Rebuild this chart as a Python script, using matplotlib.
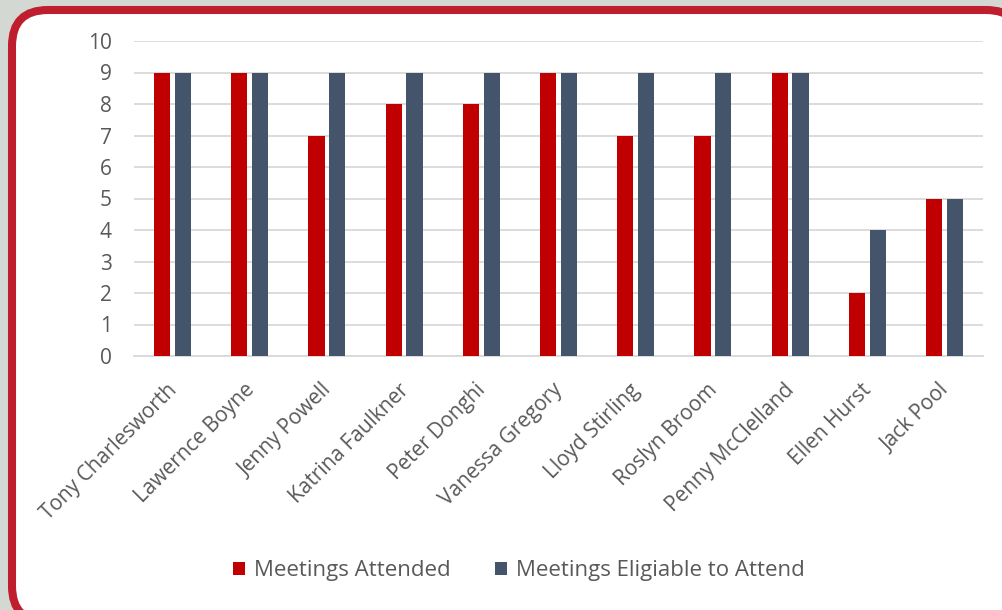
import matplotlib.pyplot as plt
import matplotlib.transforms as mtrans
import numpy as np
from matplotlib.patches import FancyBboxPatch

names = ["Tony Charlesworth", "Lawernce Boyne", "Jenny Powell", "Katrina Faulkner",
         "Peter Donghi", "Vanessa Gregory", "Lloyd Stirling", "Roslyn Broom",
         "Penny McClelland", "Ellen Hurst", "Jack Pool"]
attended = [9, 9, 7, 8, 8, 9, 7, 7, 9, 2, 5]
eligible = [9, 9, 9, 9, 9, 9, 9, 9, 9, 4, 5]
y_ticks = list(range(0, 11))

plt.rcParams['font.family'] = ['Open Sans', 'DejaVu Sans']
text_col = '#595959'

fig = plt.figure(figsize=(10.03, 6.10), dpi=100)
fig.patch.set_facecolor('#D3D8D3')

# card background with rounded red border (pixel coords)
bg = fig.add_axes([0, 0, 1, 1])
bg.set_xlim(0, 1003)
bg.set_ylim(610, 0)
bg.axis('off')
card = FancyBboxPatch((12, 10), 1010, 612, boxstyle='round,pad=0,rounding_size=36',
                      facecolor='white', edgecolor='#BE1E2D', linewidth=5.8)
bg.add_patch(card)

ax = fig.add_axes([134 / 1003, 254 / 610, (983 - 134) / 1003, 315 / 610])
ax.set_facecolor('none')

x = np.arange(len(names))
w = 0.21
off = 0.135
ax.bar(x - off, attended, w, color='#C00000', label='Meetings Attended', zorder=3)
ax.bar(x + off, eligible, w, color='#44546A', label='Meetings Eligiable to Attend', zorder=3)

ax.set_xlim(-0.5, len(names) - 0.5)
ax.set_ylim(0, 10)
ax.set_yticks(y_ticks)
ax.yaxis.grid(True, color='#D9D9D9', linewidth=1.3, zorder=0)
for s in ['top', 'right', 'left']:
    ax.spines[s].set_visible(False)
ax.spines['bottom'].set_color('#D9D9D9')
ax.spines['bottom'].set_linewidth(1.3)
ax.tick_params(axis='y', length=0, pad=16, labelsize=15, labelcolor=text_col)
ax.tick_params(axis='x', length=0, pad=17, labelsize=15, labelcolor=text_col)
ax.set_xticks(x)
ax.set_xticklabels(names, rotation=45, ha='right', va='top', rotation_mode='anchor')
shift = mtrans.ScaledTranslation(-6 / 100, 0, fig.dpi_scale_trans)
for lbl in ax.get_xticklabels():
    lbl.set_transform(lbl.get_transform() + shift)

fig.legend(loc='center', bbox_to_anchor=(0.517, 0.064), ncol=2, frameon=False,
           fontsize=16, labelcolor=text_col, handlelength=0.55, handleheight=0.55,
           handletextpad=0.4, columnspacing=2.0)

fig.savefig('out.png', dpi=100, facecolor=fig.get_facecolor())
